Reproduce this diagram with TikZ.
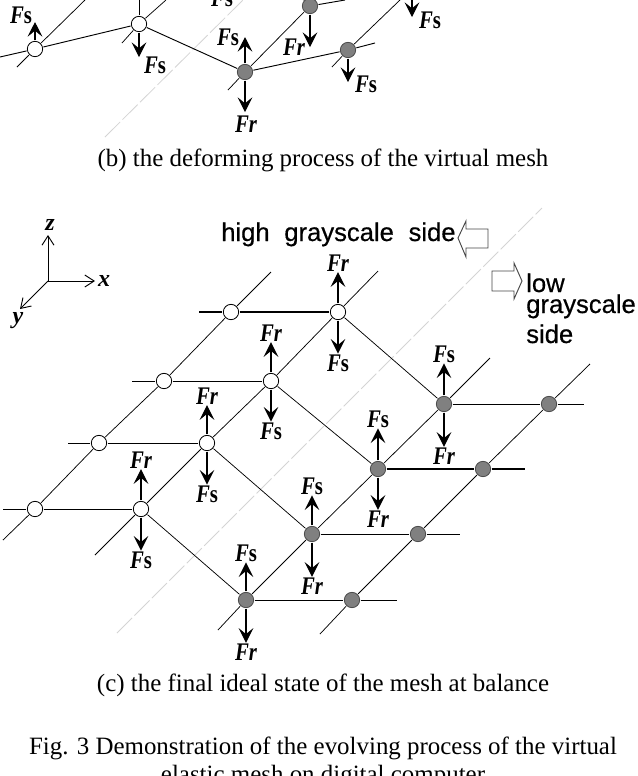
\documentclass[tikz,border=0pt]{standalone}
\usepackage{fontspec}
\setmainfont{Liberation Serif}
\newfontfamily\graysans[FakeBold=0.5]{Liberation Sans}
\usepackage{tikz}
\usetikzlibrary{arrows.meta,positioning,calc}
\definecolor{nodegray}{RGB}{128,128,128}
\definecolor{sidegray}{RGB}{212,212,212}
\definecolor{hollowline}{RGB}{70,70,70}
\tikzset{
  wnode/.style={circle, draw=black, line width=0.6pt, fill=white, inner sep=0pt, minimum size=11.5pt, outer sep=0.7pt},
  gnode/.style={circle, draw=black!70, line width=0.6pt, fill=nodegray, inner sep=0pt, minimum size=11.5pt, outer sep=0.7pt},
  diag/.style={black, line width=0.55pt},
  barline/.style={black, line width=0.7pt},
  barthick/.style={black, line width=1.6pt},
  sideline/.style={sidegray, line width=0.6pt, dash pattern=on 16pt off 2.5pt},
  farr/.style={-{Stealth[length=11pt, width=11pt, inset=4.5pt]}, black, line width=0.8pt},
  farrb/.style={-{Stealth[length=11pt, width=11pt, inset=4.5pt]}, black, line width=1.5pt},
  axarr/.style={-{Straight Barb[length=7pt, width=9pt]}, black, line width=0.7pt},
  flab/.style={font=\fontsize{19}{20}\selectfont\bfseries\itshape, inner sep=0.5pt},
  axlab/.style={font=\fontsize{18}{19}\selectfont\bfseries\itshape, inner sep=0pt},
  captxt/.style={font=\fontsize{18.7}{20}\selectfont, inner sep=0pt, anchor=base},
  sidetxt/.style={font=\graysans\fontsize{19.2}{20}\selectfont, inner sep=0pt, anchor=base west},
  hollow/.style={draw=hollowline, line width=0.7pt, fill=white, line join=miter},
}
\newcommand{\forcer}{\scalebox{0.82}[1]{Fr}}
\newcommand{\forces}{\scalebox{0.82}[1]{F\textup{s}}}

\begin{document}
\begin{tikzpicture}[x=0.75pt, y=-0.75pt]
  \clip (0,0) rectangle (638,776);
  \useasboundingbox (0,0) rectangle (638,776);
  % gray separators
  \coordinate (sb0) at (105,137);
  \coordinate (sb1) at (243,0);
  \coordinate (sc0) at (117,633);
  \coordinate (sc1) at (542,208);
  \draw[sideline] (sb0) -- (sb1);
  \draw[sideline] (sc0) -- (sc1);

  % panel b
  \node[wnode] (bw1) at (35,49) {};
  \node[wnode] (bw2) at (139,24) {};
  \node[gnode] (bg1) at (245,72) {};
  \node[gnode] (bg2) at (310,6) {};
  \node[gnode] (bg3) at (348,50) {};
  \coordinate (bl0) at (0,57);
  \coordinate (br0) at (375,43);
  \coordinate (bd1) at (17,67);
  \coordinate (bu1) at (85,0);
  \coordinate (bd2) at (122,43);
  \coordinate (bu2) at (166,0);
  \coordinate (bd3) at (228,90);
  \coordinate (bd4) at (332,67);
  \coordinate (bu4) at (400,0);
  \coordinate (bu5) at (295,-8);
  \coordinate (br5) at (345,0);
  \coordinate (bt2) at (139,0);
  \draw[barline] (bl0) -- (bw1);
  \draw[barline] (bw1) -- (bw2);
  \draw[barline] (bw2) -- (bg1);
  \draw[barline] (bg1) -- (bg3);
  \draw[barline] (bg3) -- (br0);
  \draw[barline] (bg2) -- (br5);
  \draw[barline] (bg2) -- (bu5);
  \draw[diag] (bd1) -- (bw1);
  \draw[diag] (bw1) -- (bu1);
  \draw[diag] (bd2) -- (bw2);
  \draw[diag] (bw2) -- (bu2);
  \draw[diag] (bd3) -- (bg1);
  \draw[diag] (bg1) -- (bg2);
  \draw[diag] (bd4) -- (bg3);
  \draw[diag] (bg3) -- (bu4);
  \draw[barline] (bt2) -- (bw2);
  % forces of panel b
  \coordinate (ba1) at (35,22);
  \coordinate (ba2) at (139,57);
  \coordinate (ba3) at (245,37);
  \coordinate (ba4) at (245,112);
  \coordinate (ba5) at (310,47);
  \coordinate (ba6) at (348,82);
  \coordinate (ba7) at (412,0);
  \coordinate (ba8) at (412,17);
  \draw[farr] (bw1) -- (ba1);
  \draw[farr] (bw2) -- (ba2);
  \draw[farr] (bg1) -- (ba3);
  \draw[farr] (bg1) -- (ba4);
  \draw[farr] (bg2) -- (ba5);
  \draw[farr] (bg3) -- (ba6);
  \draw[farr] (ba7) -- (ba8);
  \node[flab] (bf1) at (21,15) {\forces};
  \node[flab] (bf2) at (155,65) {\forces};
  \node[flab] (bf3) at (228,37) {\forces};
  \node[flab] (bf4) at (246,124) {\forcer};
  \node[flab] (bf5) at (294,47) {\forcer};
  \node[flab] (bf6) at (366,84) {\forces};
  \node[flab] (bf7) at (430,20) {\forces};
  \node[flab] (bf8) at (222,-2) {\forces};
  \node[captxt] (capb) at (323,166) {(b) the deforming process of the virtual mesh};

  % axes
  \coordinate (ax0) at (48,281);
  \coordinate (axz) at (48,235);
  \coordinate (axx) at (95,281);
  \coordinate (axy) at (20,309);
  \draw[axarr] (ax0) -- (axz);
  \draw[axarr] (ax0) -- (axx);
  \draw[axarr] (ax0) -- (axy);
  \node[axlab] (labz) at (50,225) {z};
  \node[axlab] (labx) at (104,281) {x};
  \node[axlab] (laby) at (18,321) {y};

  % side notes
  \node[sidetxt] (hightxt) at (221,241) {high\hspace{5.7pt} grayscale\hspace{5.7pt} side};
  \draw[hollow] (458,238) -- (466,221) -- (466,229) -- (488,229) -- (488,248) -- (466,248) -- (466,257) -- cycle;
  \draw[hollow] (522,281) -- (514,263) -- (514,271) -- (492,271) -- (492,291) -- (514,291) -- (514,299) -- cycle;
  \node[sidetxt] (lowa) at (526,292) {low};
  \node[sidetxt] (lowb) at (526,313) {grayscale};
  \node[sidetxt] (lowc) at (526,343) {side};

  % panel c
  \node[wnode] (ca1) at (35,509) {};
  \node[wnode] (ca2) at (99,443) {};
  \node[wnode] (ca3) at (164,381) {};
  \node[wnode] (ca4) at (231,312) {};
  \node[wnode] (cb1) at (141,509) {};
  \node[wnode] (cb2) at (207,443) {};
  \node[wnode] (cb3) at (271,381) {};
  \node[wnode] (cb4) at (338,312) {};
  \node[gnode] (cc1) at (246,600) {};
  \node[gnode] (cc2) at (312,534) {};
  \node[gnode] (cc3) at (378,469) {};
  \node[gnode] (cc4) at (444,404) {};
  \node[gnode] (cd1) at (352,600) {};
  \node[gnode] (cd2) at (418,534) {};
  \node[gnode] (cd3) at (483,469) {};
  \node[gnode] (cd4) at (549,404) {};
  \coordinate (ae0) at (3,540);
  \coordinate (ae1) at (271,272);
  \coordinate (be0) at (95,555);
  \coordinate (be1) at (378,271);
  \coordinate (ce0) at (218,630);
  \coordinate (ce1) at (490,358);
  \coordinate (de0) at (320,634);
  \coordinate (de1) at (590,364);
  \coordinate (hl1) at (3,509);
  \coordinate (hl2) at (68,443);
  \coordinate (hl3) at (132,381);
  \coordinate (hl4) at (199,312);
  \coordinate (hr1) at (397,600);
  \coordinate (hr2) at (460,534);
  \coordinate (hr3) at (525,469);
  \coordinate (hr4) at (584,404);
  % diagonals
  \draw[diag] (ae0) -- (ca1);
  \draw[diag] (ca1) -- (ca2);
  \draw[diag] (ca2) -- (ca3);
  \draw[diag] (ca3) -- (ca4);
  \draw[diag] (ca4) -- (ae1);
  \draw[diag] (be0) -- (cb1);
  \draw[diag] (cb1) -- (cb2);
  \draw[diag] (cb2) -- (cb3);
  \draw[diag] (cb3) -- (cb4);
  \draw[diag] (cb4) -- (be1);
  \draw[diag] (ce0) -- (cc1);
  \draw[diag] (cc1) -- (cc2);
  \draw[diag] (cc2) -- (cc3);
  \draw[diag] (cc3) -- (cc4);
  \draw[diag] (cc4) -- (ce1);
  \draw[diag] (de0) -- (cd1);
  \draw[diag] (cd1) -- (cd2);
  \draw[diag] (cd2) -- (cd3);
  \draw[diag] (cd3) -- (cd4);
  \draw[diag] (cd4) -- (de1);
  % cross links
  \draw[diag] (cb1) -- (cc1);
  \draw[diag] (cb2) -- (cc2);
  \draw[diag] (cb3) -- (cc3);
  \draw[diag] (cb4) -- (cc4);
  % rows
  \draw[barline] (hl1) -- (ca1);
  \draw[barline] (ca1) -- (cb1);
  \draw[barline] (hl2) -- (ca2);
  \draw[barline] (ca2) -- (cb2);
  \draw[barline] (hl3) -- (ca3);
  \draw[barline] (ca3) -- (cb3);
  \draw[barthick] (hl4) -- (ca4);
  \draw[barthick] (ca4) -- (cb4);
  \draw[barline] (cc1) -- (cd1);
  \draw[barline] (cd1) -- (hr1);
  \draw[barline] (cc2) -- (cd2);
  \draw[barline] (cd2) -- (hr2);
  \draw[barthick] (cc3) -- (cd3);
  \draw[barthick] (cd3) -- (hr3);
  \draw[barline] (cc4) -- (cd4);
  \draw[barline] (cd4) -- (hr4);
  % forces of panel c
  \node[flab] (fa1) at (141,460) {\forcer};
  \node[flab] (fb1) at (141,560) {\forces};
  \node[flab] (fa2) at (207,396) {\forcer};
  \node[flab] (fb2) at (207,494) {\forces};
  \node[flab] (fa3) at (271,333) {\forcer};
  \node[flab] (fb3) at (271,431) {\forces};
  \node[flab] (fa4) at (338,263) {\forcer};
  \node[flab] (fb4) at (338,363) {\forces};
  \node[flab] (fc1) at (246,553) {\forces};
  \node[flab] (fd1) at (246,652) {\forcer};
  \node[flab] (fc2) at (312,486) {\forces};
  \node[flab] (fd2) at (312,586) {\forcer};
  \node[flab] (fc3) at (378,419) {\forces};
  \node[flab] (fd3) at (378,519) {\forcer};
  \node[flab] (fc4) at (444,354) {\forces};
  \node[flab] (fd4) at (444,456) {\forcer};
  \draw[farr] (cb1) -- (fa1);
  \draw[farr] (cb1) -- (fb1);
  \draw[farr] (cb2) -- (fa2);
  \draw[farr] (cb2) -- (fb2);
  \draw[farrb] (cb3) -- (fa3);
  \draw[farrb] (cb3) -- (fb3);
  \draw[farr] (cb4) -- (fa4);
  \draw[farr] (cb4) -- (fb4);
  \draw[farr] (cc1) -- (fc1);
  \draw[farr] (cc1) -- (fd1);
  \draw[farr] (cc2) -- (fc2);
  \draw[farr] (cc2) -- (fd2);
  \draw[farrb] (cc3) -- (fc3);
  \draw[farrb] (cc3) -- (fd3);
  \draw[farr] (cc4) -- (fc4);
  \draw[farr] (cc4) -- (fd4);

  \node[captxt] (capc) at (323,691) {(c) the final ideal state of the mesh at balance};
  \node[captxt] (figa) at (323,754) {Fig. 3 Demonstration of the evolving process of the virtual};
  \node[captxt] (figb) at (323,782) {elastic mesh on digital computer};
\end{tikzpicture}
\end{document}
